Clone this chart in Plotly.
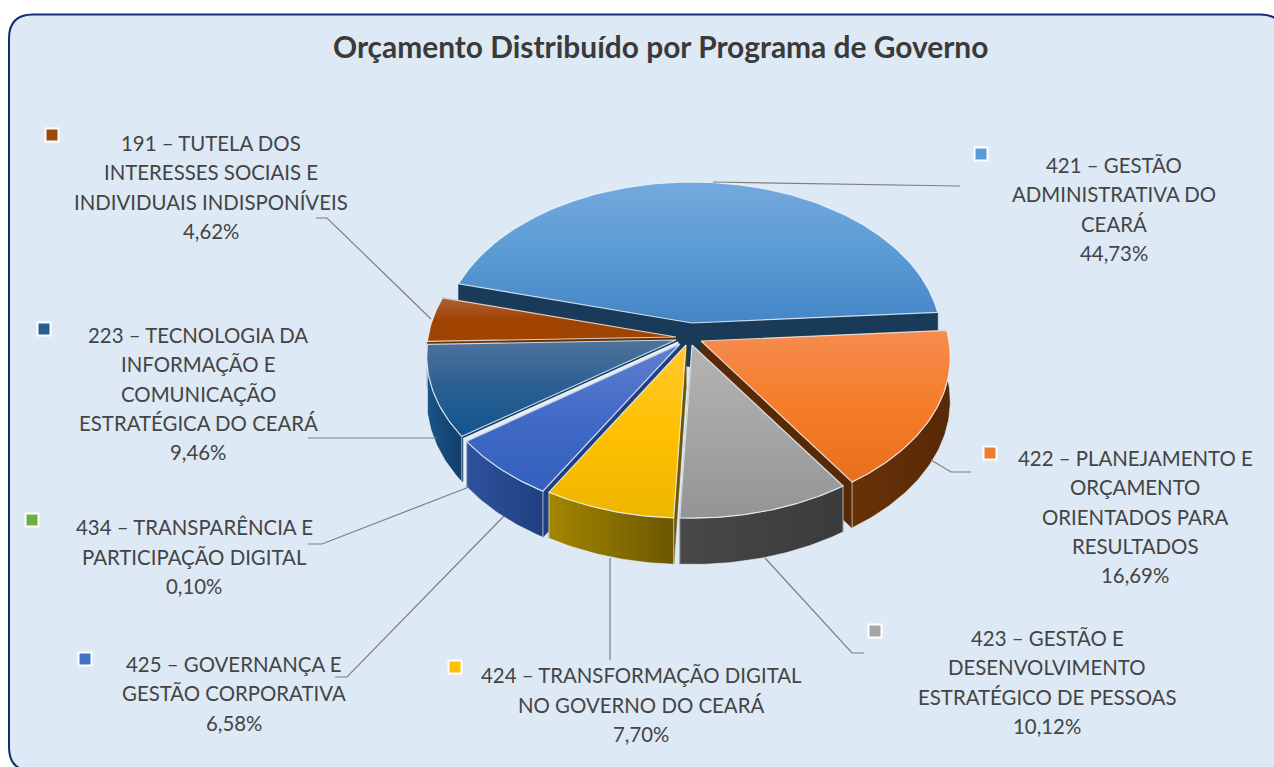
import numpy as np
import plotly.graph_objects as go

# ---------- data ----------
names = [
    ["421 – GESTÃO", "ADMINISTRATIVA DO", "CEARÁ"],
    ["422 – PLANEJAMENTO E", "ORÇAMENTO", "ORIENTADOS PARA", "RESULTADOS"],
    ["423 – GESTÃO E", "DESENVOLVIMENTO", "ESTRATÉGICO DE PESSOAS"],
    ["424 – TRANSFORMAÇÃO DIGITAL", "NO GOVERNO DO CEARÁ"],
    ["425 – GOVERNANÇA E", "GESTÃO CORPORATIVA"],
    ["434 – TRANSPARÊNCIA E", "PARTICIPAÇÃO DIGITAL"],
    ["223 – TECNOLOGIA DA", "INFORMAÇÃO E", "COMUNICAÇÃO", "ESTRATÉGICA DO CEARÁ"],
    ["191 – TUTELA DOS", "INTERESSES SOCIAIS E", "INDIVIDUAIS INDISPONÍVEIS"],
]
values = [44.73, 16.69, 10.12, 7.70, 6.58, 0.10, 9.46, 4.62]
title = "Orçamento Distribuído por Programa de Governo"

# ---------- geometry / style (separate from the data) ----------
W, H = 1274, 767
FIRST_ANGLE = 285.0
R, Q, K, WALL = 248.0, 155.4, 0.102, 44.0
apex = [(692, 323), (701, 341), (692, 345), (686, 345), (680, 344), (678, 342), (676, 340), (676, 337)]
# colours run from the bottom of a face to its top (the y axis is reversed)
top_colors = [
    ["#4485c6", "#5b9bd5", "#74a9dd"],
    ["#e86f1c", "#f67c28", "#f58c50"],
    ["#949494", "#a5a5a5", "#b4b4b4"],
    ["#eeb600", "#ffc000", "#ffc82e"],
    ["#3361bd", "#4169c6", "#6081cf"],
    ["#70ad47", "#70ad47", "#8fbc6f"],
    ["#10548c", "#2a5f92", "#4f729c"],
    ["#9e4400", "#a14300", "#ad6238"],
]
wall_colors = [
    ["#1a3a5a", "#1a3a5a"],
    ["#683208", "#572905"],
    ["#484848", "#3b3b3b"],
    ["#a38600", "#6c5700"],
    ["#2f529e", "#1f3f80"],
    ["#e4edf5", "#e4edf5"],
    ["#1a5488", "#123e68"],
    ["#6b3000", "#6b3000"],
]
marker_colors = ["#5b9bd5", "#ed7d31", "#a5a5a5", "#ffc000", "#4472c4", "#70ad47", "#255e91", "#9e480e"]
draw_order = [0, 7, 6, 5, 4, 3, 1, 2]
hidden_outer = {0, 7}

label_x = [1114, 1135, 1047, 641, 234, 194, 198, 211]
label_y = [165, 458, 638, 675, 664, 527, 335, 143]
line_step = [29.3, 29.3, 29.3, 29.5, 29.3, 29.5, 29.3, 29.3]
marker_xy = [(981, 154), (990, 453), (875, 631), (455, 667), (85, 659), (32, 520), (44, 329), (52, 135)]
leaders = [
    [(713, 182), (960, 186)],
    [(931, 460), (951, 472), (971, 472)],
    [(765, 558), (852, 653), (864, 653)],
    [(610, 558), (610, 660)],
    [(504, 516), (347, 677), (335, 677)],
    [(469, 487), (322, 544), (308, 544)],
    [(437, 438), (308, 438)],
    [(431, 319), (327, 218), (316, 218)],
]


def surf(i, th):
    th = np.radians(th)
    X, Y = np.sin(th), np.cos(th)
    d = 1 + K * Y
    return apex[i][0] + R * X / d, apex[i][1] - Q * Y / d, WALL / np.sqrt(d)


def grad(cols):
    return [[j / (len(cols) - 1), c] for j, c in enumerate(cols)]


EDGE = "rgba(240,245,250,0.8)"
fig = go.Figure()


def poly(x, y, cols, kind, width=1.0, edge=EDGE):
    fig.add_trace(go.Scatter(
        x=list(x), y=list(y), mode="lines", fill="toself",
        fillgradient=dict(type=kind, colorscale=grad(cols)),
        line=dict(color=edge, width=width), hoverinfo="skip", showlegend=False,
    ))


starts = FIRST_ANGLE + np.concatenate([[0], np.cumsum(values)[:-1]]) * 3.6
ends = starts + np.array(values) * 3.6

for i in draw_order:
    a = np.linspace(starts[i], ends[i], max(int(values[i] * 4), 3))
    xs, ys, hs = surf(i, a)
    ax, ay = apex[i]
    # radial walls
    for k in (0, -1):
        h = hs[k]
        poly([ax, xs[k], xs[k], ax, ax], [ay, ys[k], ys[k] + h, ay + WALL, ay],
             [wall_colors[i][-1], wall_colors[i][-1]], "horizontal", 0.6, wall_colors[i][-1])
    # outer wall
    if i not in hidden_outer:
        poly(np.r_[xs, xs[::-1], xs[0]], np.r_[ys, (ys + hs)[::-1], ys[0]],
             wall_colors[i], "horizontal", 0.8)
    # top face
    poly(np.r_[ax, xs, ax], np.r_[ay, ys, ay], top_colors[i], "vertical", 1.2)

# leader lines
for pts in leaders:
    fig.add_trace(go.Scatter(
        x=[p[0] for p in pts], y=[p[1] for p in pts], mode="lines",
        line=dict(color="#7f7f7f", width=1.2), hoverinfo="skip", showlegend=False,
    ))

# legend keys
fig.add_trace(go.Scatter(
    x=[p[0] for p in marker_xy], y=[p[1] for p in marker_xy], mode="markers",
    marker=dict(symbol="square", size=13, color=marker_colors, line=dict(color="white", width=2)),
    hoverinfo="skip", showlegend=False,
))

annotations = [dict(
    x=660, y=46, xref="x", yref="y", text=f"<b>{title}</b>", showarrow=False,
    xanchor="center", yanchor="middle", font=dict(family="Lato", size=29.9, color="#3a3a3a"),
)]
for i, lines in enumerate(names):
    full = lines + [f"{values[i]:.2f}".replace(".", ",") + "%"]
    for j, t in enumerate(full):
        annotations.append(dict(
            x=label_x[i], y=label_y[i] + j * line_step[i], xref="x", yref="y", text=t,
            showarrow=False, xanchor="center", yanchor="middle",
            font=dict(family="Lato", size=20.4, color="#444444"),
        ))

L, T, RR, B, r = 9, 14.5, 1284, 771, 24
panel = (f"M{L},{T + r} Q{L},{T} {L + r},{T} L{RR - r},{T} Q{RR},{T} {RR},{T + r} "
         f"L{RR},{B - r} Q{RR},{B} {RR - r},{B} L{L + r},{B} Q{L},{B} {L},{B - r} Z")

fig.update_layout(
    width=W, height=H, margin=dict(l=0, r=0, t=0, b=0), autosize=False,
    paper_bgcolor="white", plot_bgcolor="white", showlegend=False,
    xaxis=dict(range=[0, W], visible=False, fixedrange=True),
    yaxis=dict(range=[H, 0], visible=False, fixedrange=True),
    shapes=[dict(type="path", path=panel, xref="x", yref="y", layer="below",
                 fillcolor="#dde9f5", line=dict(color="#0f2f73", width=2))],
    annotations=annotations,
)

fig.write_html("out.html", post_script="document.body.style.margin='0';",
               config={"displayModeBar": False})
